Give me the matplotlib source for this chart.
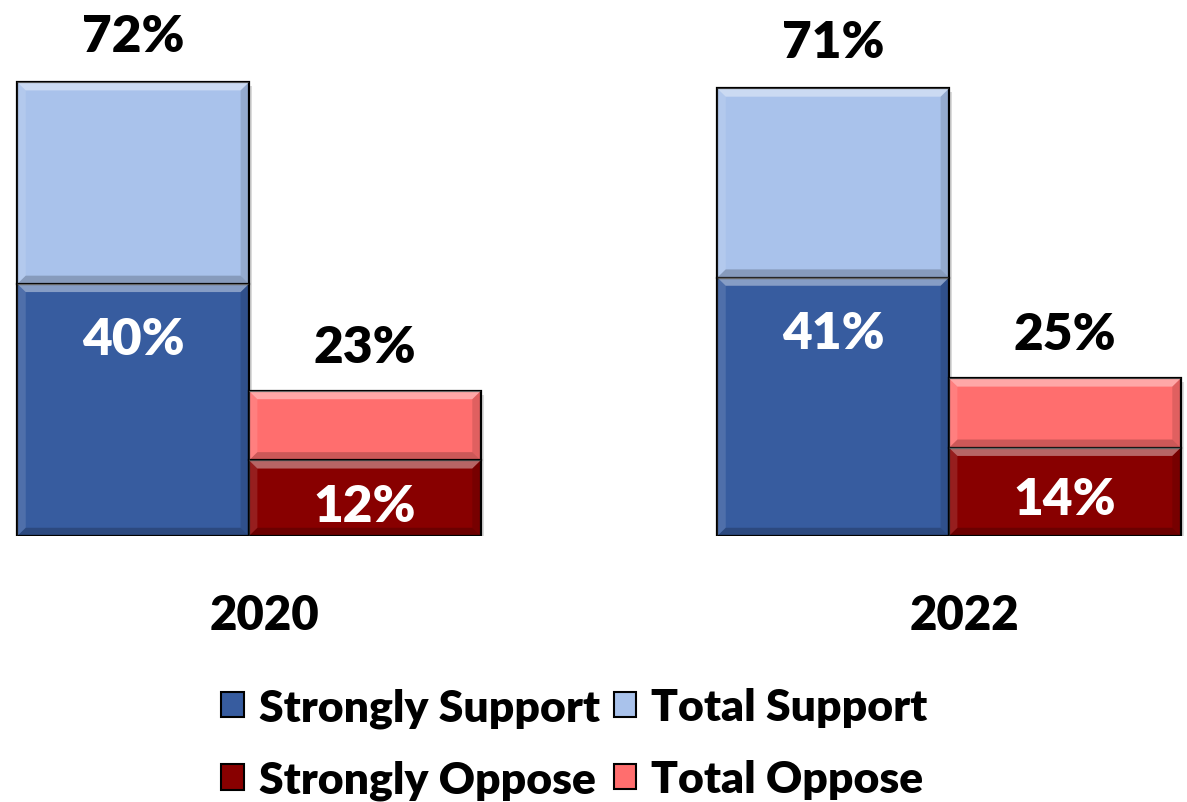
import numpy as np
import matplotlib
matplotlib.use("Agg")
import matplotlib.pyplot as plt
from matplotlib.patches import Polygon, Patch

plt.rcParams['font.family'] = ['Lato', 'DejaVu Sans']
plt.rcParams['font.weight'] = 'heavy'

years = ['2020', '2022']
strongly_support = [40, 41]
total_support = [72, 71]
strongly_oppose = [12, 14]
total_oppose = [23, 25]

c_ss = '#375C9F'
c_ts = '#A9C2EB'
c_so = '#880000'
c_to = '#FF6E6E'

fig = plt.figure(figsize=(11.87, 8.03), dpi=100)
ax = fig.add_axes([0, 0.3313, 1, 0.6687])

x = np.arange(len(years))
w = 0.331

ts = np.array(total_support)
ss = np.array(strongly_support)
to = np.array(total_oppose)
so = np.array(strongly_oppose)

bars = []
bars += list(ax.bar(x - w / 2, ss, w, color=c_ss, edgecolor='black', lw=1.6, zorder=3))
bars += list(ax.bar(x - w / 2, ts - ss, w, bottom=ss, color=c_ts, edgecolor='black', lw=1.6, zorder=3))
bars += list(ax.bar(x + w / 2, so, w, color=c_so, edgecolor='black', lw=1.6, zorder=3))
bars += list(ax.bar(x + w / 2, to - so, w, bottom=so, color=c_to, edgecolor='black', lw=1.6, zorder=3))

ax.set_xlim(-0.3557, 1.34)
ax.set_ylim(0, 85.2)
ax.axis('off')

# bevel + shadow
bx, by = 0.012, 1.3
for b in bars:
    x0, y0 = b.get_x(), b.get_y()
    x1, y1 = x0 + b.get_width(), y0 + b.get_height()
    ax.add_patch(Polygon([(x0 + 0.004, y0 - 0.6), (x1 + 0.005, y0 - 0.6), (x1 + 0.005, y1 - 0.6), (x1, y1 - 0.6), (x1, y0)],
                         closed=True, color='#999999', alpha=0.35, lw=0, zorder=2))
    ax.add_patch(Polygon([(x0, y1), (x1, y1), (x1 - bx, y1 - by), (x0 + bx, y1 - by)],
                         closed=True, color='white', alpha=0.4, lw=0, zorder=3.5))
    ax.add_patch(Polygon([(x0, y0), (x1, y0), (x1 - bx, y0 + by), (x0 + bx, y0 + by)],
                         closed=True, color='black', alpha=0.2, lw=0, zorder=3.5))
    ax.add_patch(Polygon([(x0, y0), (x0, y1), (x0 + bx, y1 - by), (x0 + bx, y0 + by)],
                         closed=True, color='white', alpha=0.12, lw=0, zorder=3.5))
    ax.add_patch(Polygon([(x1, y0), (x1, y1), (x1 - bx, y1 - by), (x1 - bx, y0 + by)],
                         closed=True, color='black', alpha=0.12, lw=0, zorder=3.5))

fs = 37
for i in range(len(years)):
    ax.text(x[i] - w / 2, ts[i] + 7.3, f'{ts[i]}%', ha='center', va='center', fontsize=fs, color='black', zorder=5)
    ax.text(x[i] - w / 2, ss[i] - 8.8, f'{ss[i]}%', ha='center', va='center', fontsize=fs, color='white', zorder=5)
    ax.text(x[i] + w / 2, to[i] + 7.0, f'{to[i]}%', ha='center', va='center', fontsize=fs, color='black', zorder=5)
    ax.text(x[i] + w / 2, so[i] / 2 - 1.2, f'{so[i]}%', ha='center', va='center', fontsize=fs, color='white', zorder=5)
    ax.text(x[i] + 0.022, -12.6, years[i], ha='center', va='center', fontsize=34, color='black')

handles = [Patch(facecolor=c_ss, edgecolor='black', lw=1.5, label='Strongly Support'),
           Patch(facecolor=c_so, edgecolor='black', lw=1.5, label='Strongly Oppose'),
           Patch(facecolor=c_ts, edgecolor='black', lw=1.5, label='Total Support'),
           Patch(facecolor=c_to, edgecolor='black', lw=1.5, label='Total Oppose')]
fig.legend(handles=handles, ncol=2, loc='center', bbox_to_anchor=(0.484, 0.0725),
           frameon=False, fontsize=32, handlelength=0.5, handleheight=0.5,
           handletextpad=0.35, columnspacing=0.3, labelspacing=0.72)

fig.savefig('out.png', dpi=100)
